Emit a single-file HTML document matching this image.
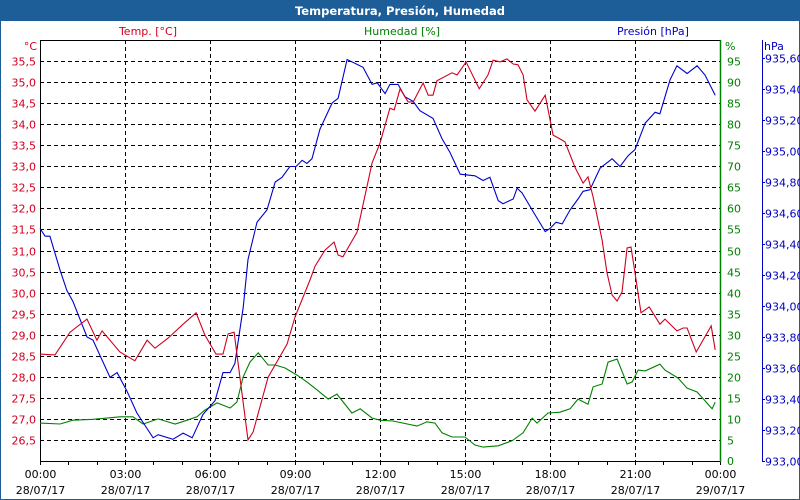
<!DOCTYPE html>
<html><head><meta charset="utf-8"><style>
body{margin:0;background:#fff}
svg{display:block;font-family:Tahoma,"DejaVu Sans","Liberation Sans",sans-serif;font-size:11px}
</style></head><body>
<svg id="chart" width="800" height="500">
<rect x="0" y="0" width="800" height="500" fill="#fff" stroke="#1d5e98" stroke-width="2"/>
<rect x="0" y="0" width="800" height="21" fill="#1d5e98"/>
<text x="400" y="15" text-anchor="middle" fill="#fff" font-weight="bold" font-size="11.5">Temperatura, Presión, Humedad</text>
<text x="148" y="35" text-anchor="middle" fill="#d00020">Temp. [°C]</text>
<text x="402" y="35" text-anchor="middle" fill="#008000">Humedad [%]</text>
<text x="653" y="35" text-anchor="middle" fill="#0000c0">Presión [hPa]</text>
<text x="37" y="50" text-anchor="end" fill="#d00020">°C</text>
<text x="725" y="50" fill="#008000">%</text>
<text x="764" y="50" fill="#0000c0">hPa</text>
<g id="grid"></g><g id="axes"></g><g id="series"></g>
</svg>
<script>
const tempHours=[0,0.53,1.06,1.66,2.01,2.19,2.82,3.35,3.78,4.06,4.52,5.05,5.51,5.82,6.21,6.46,6.64,6.85,7.34,7.52,8.05,8.72,9.0,9.53,9.71,10.06,10.38,10.52,10.69,11.19,11.72,12.0,12.35,12.5,12.71,12.99,13.17,13.52,13.7,13.87,14.01,14.54,14.72,15.04,15.5,15.81,15.99,16.24,16.48,16.7,16.87,17.05,17.19,17.47,17.83,18.11,18.35,18.53,18.88,19.17,19.34,19.52,19.84,20.01,20.19,20.37,20.54,20.72,20.86,21.0,21.21,21.5,21.88,22.06,22.48,22.7,22.84,23.16,23.69,23.83];
const tempValues=[28.54,28.52,29.06,29.37,28.87,29.09,28.59,28.38,28.87,28.68,28.92,29.25,29.52,28.99,28.54,28.54,29.02,29.06,26.5,26.69,27.99,28.78,29.42,30.3,30.63,31.01,31.2,30.89,30.85,31.44,33.08,33.55,34.38,34.34,34.84,34.53,34.53,34.98,34.69,34.69,35.03,35.22,35.17,35.48,34.84,35.17,35.52,35.48,35.55,35.43,35.41,35.17,34.58,34.31,34.69,33.74,33.65,33.58,32.98,32.6,32.75,32.27,31.25,30.47,29.94,29.8,30.01,31.06,31.08,30.47,29.52,29.66,29.25,29.37,29.09,29.16,29.16,28.59,29.21,28.64];
const humHours=[0,0.71,1.16,1.87,2.36,2.82,3.28,3.64,4.17,4.77,5.19,5.54,5.82,6.0,6.25,6.71,6.95,7.17,7.41,7.7,8.05,8.3,8.65,9.07,9.42,9.78,10.17,10.48,11.01,11.3,11.72,12.0,12.46,13.31,13.66,13.94,14.19,14.54,15.0,15.35,15.64,16.17,16.66,17.05,17.37,17.54,17.93,18.35,18.71,18.99,19.34,19.52,19.84,20.05,20.37,20.72,20.9,21.11,21.36,21.88,22.06,22.52,22.84,23.19,23.72,23.83];
const humValues=[9.0,8.8,9.7,9.9,10.2,10.5,10.5,8.8,10.0,8.8,9.7,10.5,12.1,12.8,13.8,12.6,14.0,20.0,23.5,25.7,22.8,22.8,22.1,20.4,18.8,16.9,14.7,15.9,11.4,12.4,10.2,9.7,9.5,8.3,9.3,9.0,6.7,5.7,5.7,3.8,3.3,3.6,4.8,6.7,10.2,9.0,11.4,11.6,12.4,14.7,13.5,17.6,18.3,23.5,24.2,18.3,18.8,21.6,21.4,23.0,21.6,19.7,17.3,16.4,12.4,14.0];
const presHours=[0,0.18,0.35,0.71,0.95,1.16,1.38,1.66,1.87,2.47,2.72,3.07,3.42,3.99,4.17,4.69,5.05,5.37,5.75,6.18,6.46,6.71,6.88,7.17,7.34,7.66,8.01,8.3,8.54,8.82,9.04,9.25,9.42,9.6,9.88,10.31,10.52,10.84,11.4,11.72,11.9,12.18,12.35,12.64,12.88,13.17,13.41,13.87,14.19,14.47,14.83,15.35,15.64,15.88,16.17,16.34,16.7,16.84,17.01,17.4,17.83,18.0,18.21,18.43,18.71,18.99,19.17,19.41,19.77,20.05,20.19,20.47,20.76,21.0,21.36,21.71,21.88,22.24,22.48,22.84,23.19,23.47,23.83];
const presValues=[934.50,934.45,934.45,934.23,934.10,934.03,933.93,933.80,933.78,933.54,933.57,933.45,933.31,933.15,933.17,933.14,933.18,933.15,933.30,933.39,933.57,933.57,933.63,933.99,934.30,934.54,934.62,934.80,934.83,934.90,934.90,934.94,934.92,934.95,935.14,935.31,935.34,935.59,935.54,935.43,935.44,935.37,935.43,935.43,935.35,935.32,935.26,935.21,935.08,934.99,934.85,934.84,934.81,934.83,934.68,934.66,934.69,934.76,934.73,934.61,934.48,934.50,934.54,934.53,934.62,934.69,934.74,934.75,934.89,934.93,934.95,934.90,934.97,935.01,935.18,935.25,935.24,935.46,935.55,935.50,935.55,935.49,935.36];
const tempTicks=["26,5","27,0","27,5","28,0","28,5","29,0","29,5","30,0","30,5","31,0","31,5","32,0","32,5","33,0","33,5","34,0","34,5","35,0","35,5"];
const humTicks=["0","5","10","15","20","25","30","35","40","45","50","55","60","65","70","75","80","85","90","95"];
const presTicks=["933,00","933,20","933,40","933,60","933,80","934,00","934,20","934,40","934,60","934,80","935,00","935,20","935,40","935,60"];
const timeLabels=["00:00","03:00","06:00","09:00","12:00","15:00","18:00","21:00","00:00"];
const dateLabels=["28/07/17","28/07/17","28/07/17","28/07/17","28/07/17","28/07/17","28/07/17","28/07/17","29/07/17"];

const L=40,R=720,T=40,B=461;
const NS="http://www.w3.org/2000/svg";
const xS=h=>L+(R-L)*h/24;
const yH=v=>B-(B-T)*v/100;
const yT=v=>yH((v-26)*10);
const yP=v=>B-(v-933)*155;
function mk(parent,tag,attrs){const e=document.createElementNS(NS,tag);for(const k in attrs)e.setAttribute(k,attrs[k]);document.getElementById(parent).appendChild(e);return e;}
const toNum=s=>parseFloat(s.replace(',','.'));

// horizontal grid
humTicks.forEach((t,i)=>{const v=+t;if(v===0)return;const y=Math.round(yH(v))+0.5;
 const g=mk('grid','line',{x1:L,x2:R,y1:y,y2:y,stroke:'#000','stroke-dasharray':'4,3'});
 
 
 const tl=mk('axes','text',{x:R+7,y:y+4,fill:'#008000'});tl.textContent=t;
 
 
});
humTicks.forEach((t,i)=>{if(t==="0"){const tl=mk('axes','text',{x:R+7,y:B+4,fill:'#008000'});tl.textContent=t;
 
 }});
tempTicks.forEach(t=>{const y=Math.round(yT(toNum(t)))+0.5;
 const tl=mk('axes','text',{x:36,y:y+4,fill:'#d00020','text-anchor':'end'});tl.textContent=t;
 
 
});
presTicks.forEach(t=>{const y=Math.round(yP(toNum(t)))+0.5;
 const tk=mk('axes','line',{x1:762,x2:765,y1:y,y2:y,stroke:'#0000c0'});
 
 
 const tl=mk('axes','text',{x:765,y:y+4,fill:'#0000c0'});tl.textContent=t;
 
 
});
// vertical grid & time labels
timeLabels.forEach((t,i)=>{const x=Math.round(xS(i*3))+0.5;
 if(i>0&&i<8){const g=mk('grid','line',{x1:x,x2:x,y1:T,y2:B,stroke:'#000','stroke-dasharray':'4,3'});
 
 }
 const tl=mk('axes','text',{x:x,y:478,fill:'#000','text-anchor':'middle'});tl.textContent=t;
 
 
 const dl=mk('axes','text',{x:x,y:494,fill:'#000','text-anchor':'middle'});dl.textContent=dateLabels[i];
 
 
});
for(let h=0;h<=24;h++){const x=Math.round(xS(h))+0.5;
 const tk=mk('axes','line',{x1:x,x2:x,y1:B,y2:B+4,stroke:'#000'});
 
 }
// axes lines
const a1=mk('axes','path',{d:`M${L+0.5},${B+0.5}V${T+0.5}H${R}`,stroke:'#000',fill:'none'});


const a2=mk('axes','line',{x1:L,x2:R,y1:B+0.5,y2:B+0.5,stroke:'#000'});


const a3=mk('axes','line',{x1:R+0.5,x2:R+0.5,y1:T,y2:B+1,stroke:'#008000','stroke-width':1.5});


const a4=mk('axes','line',{x1:762.5,x2:762.5,y1:T,y2:B+1,stroke:'#0000c0'});


// series
function line(hs,vs,ys,color,name){const d=hs.map((h,i)=>(i?'L':'M')+xS(h).toFixed(1)+','+ys(vs[i]).toFixed(1)).join('');
 const p=mk('series','path',{d:d,stroke:color,fill:'none','stroke-width':1.1});
 
 }
line(humHours,humValues,yH,'#008000','humidity-line');
line(presHours,presValues,yP,'#0000d0','pressure-line');
line(tempHours,tempValues,yT,'#d00020','temperature-line');
</script>
</body></html>
